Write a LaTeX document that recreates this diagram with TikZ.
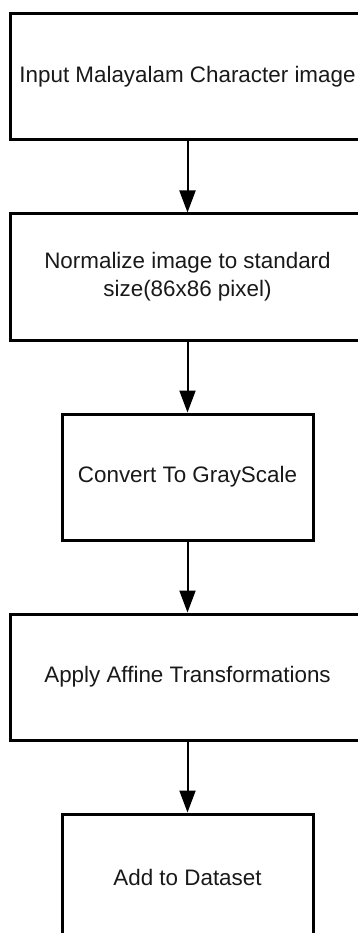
\documentclass[tikz,border=0pt]{standalone}
\usepackage{fontspec}
\setmainfont{Liberation Sans}
\usetikzlibrary{arrows.meta}
\begin{document}
\begin{tikzpicture}[x=1pt,y=-1pt,
  stepbox/.style={draw=black, line width=3pt, minimum height=126pt,
    align=center, inner sep=0pt, text=black!90,
    font=\fontsize{22.4}{28}\selectfont},
  widebox/.style={stepbox, minimum width=354pt},
  narrowbox/.style={stepbox, minimum width=251pt},
  flow/.style={line width=2pt, -{Triangle[length=22pt,width=16pt]}}]
\useasboundingbox (0,0) rectangle (358,933);
\clip (0,0) rectangle (358,933);
% processing steps, top to bottom
\node[widebox]   (input) at (187.5,77)  {Input Malayalam Character image};
\node[widebox]   (norm)  at (187.5,277) {Normalize image to standard\\size(86x86 pixel)};
\node[narrowbox] (gray)  at (187.5,477) {Convert To GrayScale};
\node[widebox]   (aff)   at (187.5,677) {Apply Affine Transformations};
\node[narrowbox] (add)   at (187.5,877) {Add to Dataset};
% connectors
\draw[flow] (input.south) -- (norm.north);
\draw[flow] (norm.south)  -- (gray.north);
\draw[flow] (gray.south)  -- (aff.north);
\draw[flow] (aff.south)   -- (add.north);
\end{tikzpicture}
\end{document}
